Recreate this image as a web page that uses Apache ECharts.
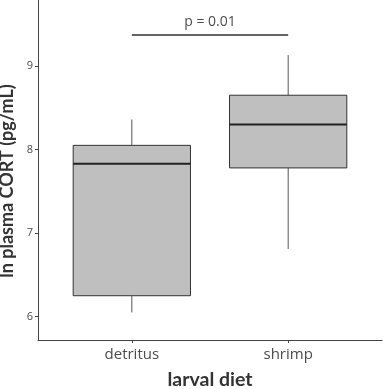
<!DOCTYPE html>
<html>
<head>
<meta charset="utf-8">
<script src="https://cdn.jsdelivr.net/npm/echarts@6/dist/echarts.min.js"></script>
<style>
html,body{margin:0;padding:0;background:#fff;}
#chart{width:383px;height:389px;}
</style>
</head>
<body>
<div id="chart"></div>
<script>
// categories and positions on x scale
const categories = ['detritus', 'shrimp'];
const categoryPos = [1, 2];
// box statistics [min, Q1, median, Q3, max]
const detritusStats = [6.05, 6.25, 7.83, 8.05, 8.36];
const shrimpStats = [6.81, 7.78, 8.30, 8.65, 9.13];
// y tick labels
const yTicks = [6, 7, 8, 9];
// significance annotation
const pText = 'p = 0.01';
const bracketY = 9.37;
const pTextY = 9.53;

const boxData = [
  [categoryPos[0]].concat(detritusStats),
  [categoryPos[1]].concat(shrimpStats)
];

const chart = echarts.init(document.getElementById('chart'), null, {renderer: 'canvas'});

const halfWidth = 0.375;

chart.setOption({
  animation: false,
  grid: {left: 38, right: 1, top: 0, bottom: 49, containLabel: false, outerBoundsMode: 'none'},
  xAxis: {
    type: 'value',
    min: 0.4, max: 2.6,
    name: 'larval diet',
    nameLocation: 'middle',
    nameGap: 30,
    nameTextStyle: {fontFamily: 'Lato', fontWeight: 'bold', fontSize: 19.5, color: '#333'},
    axisLine: {show: true, lineStyle: {color: '#444', width: 1}},
    axisTick: {show: true, length: 3, customValues: categoryPos, lineStyle: {color: '#444'}},
    axisLabel: {
      customValues: categoryPos,
      margin: 7,
      fontFamily: 'Open Sans', fontSize: 15, color: '#4d4d4d',
      formatter: v => categories[categoryPos.indexOf(Math.round(v))] || ''
    },
    splitLine: {show: false}
  },
  yAxis: {
    type: 'value',
    min: 5.72, max: 9.79,
    name: 'ln plasma CORT (pg/mL)',
    nameLocation: 'middle',
    nameGap: 15,
    nameTextStyle: {fontFamily: 'Lato', fontWeight: 'bold', fontSize: 18, color: '#333', padding: [0, 22, 0, 0]},
    axisLine: {show: true, lineStyle: {color: '#444', width: 1}},
    axisTick: {show: true, length: 3, customValues: yTicks, lineStyle: {color: '#444'}},
    axisLabel: {
      customValues: yTicks,
      margin: 5,
      fontFamily: 'Open Sans', fontSize: 11, color: '#4d4d4d'
    },
    splitLine: {show: false}
  },
  series: [
    {
      type: 'custom',
      data: boxData,
      clip: false,
      renderItem: function (params, api) {
        const x = api.value(0);
        const mn = api.value(1), q1 = api.value(2), md = api.value(3), q3 = api.value(4), mx = api.value(5);
        const pMax = api.coord([x, mx]);
        const pMin = api.coord([x, mn]);
        const pQ3l = api.coord([x - halfWidth, q3]);
        const pQ1r = api.coord([x + halfWidth, q1]);
        const pMdl = api.coord([x - halfWidth, md]);
        const pMdr = api.coord([x + halfWidth, md]);
        const pQ3 = api.coord([x, q3]);
        const pQ1 = api.coord([x, q1]);
        return {
          type: 'group',
          children: [
            {type: 'line', shape: {x1: pMax[0], y1: pMax[1], x2: pQ3[0], y2: pQ3[1]}, style: {stroke: '#555', lineWidth: 1}},
            {type: 'line', shape: {x1: pMin[0], y1: pMin[1], x2: pQ1[0], y2: pQ1[1]}, style: {stroke: '#555', lineWidth: 1}},
            {type: 'rect', shape: {x: pQ3l[0], y: pQ3l[1], width: pQ1r[0] - pQ3l[0], height: pQ1r[1] - pQ3l[1]}, style: {fill: '#bfbfbf', stroke: '#333', lineWidth: 1}},
            {type: 'line', shape: {x1: pMdl[0], y1: pMdl[1], x2: pMdr[0], y2: pMdr[1]}, style: {stroke: '#222', lineWidth: 2}}
          ]
        };
      }
    },
    {
      type: 'custom',
      data: [[categoryPos[0], categoryPos[1], bracketY, pTextY]],
      clip: false,
      renderItem: function (params, api) {
        const a = api.coord([api.value(0), api.value(2)]);
        const b = api.coord([api.value(1), api.value(2)]);
        const t = api.coord([(api.value(0) + api.value(1)) / 2, api.value(3)]);
        return {
          type: 'group',
          children: [
            {type: 'line', shape: {x1: a[0], y1: a[1], x2: b[0], y2: b[1]}, style: {stroke: '#333', lineWidth: 1.5}},
            {type: 'text', x: t[0], y: t[1], style: {text: pText, fill: '#4d4d4d', font: '14px "Open Sans"', align: 'center', verticalAlign: 'middle'}}
          ]
        };
      }
    }
  ]
});
</script>
</body>
</html>
